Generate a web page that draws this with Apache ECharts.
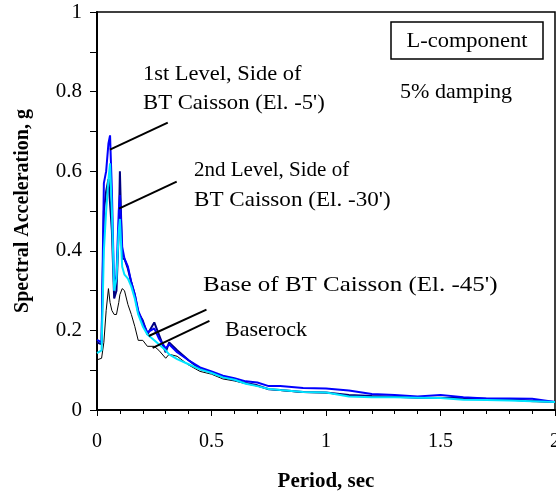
<!DOCTYPE html>
<html>
<head>
<meta charset="utf-8">
<script src="https://cdn.jsdelivr.net/npm/echarts@6/dist/echarts.min.js"></script>
<style>
  html, body { margin: 0; padding: 0; background: #fff; }
  #chart { width: 556px; height: 497px; }
</style>
</head>
<body>
<div id="chart"></div>
<script>
// Response spectra, 5% damping, L-component
const period = [0, 0.02, 0.03, 0.04, 0.05, 0.057, 0.065, 0.075, 0.085, 0.095, 0.1, 0.11, 0.12, 0.135, 0.15, 0.165, 0.18, 0.2, 0.22, 0.25, 0.27, 0.3, 0.315, 0.35, 0.4, 0.45,
  0.5, 0.55, 0.6, 0.65, 0.7, 0.75, 0.8, 0.9, 1.0, 1.1, 1.2, 1.3, 1.4, 1.5, 1.6, 1.7, 1.8, 1.9, 2.0];

const baserock = [0.126, 0.13, 0.17, 0.25, 0.305, 0.27, 0.25, 0.24, 0.24, 0.27, 0.29, 0.305, 0.30, 0.265, 0.24, 0.21, 0.175, 0.175, 0.16, 0.16, 0.15, 0.13, 0.14, 0.135, 0.113, 0.097,
  0.09, 0.078, 0.073, 0.066, 0.06, 0.052, 0.049, 0.044, 0.043, 0.036, 0.033, 0.032, 0.031, 0.03, 0.028, 0.026, 0.025, 0.021, 0.02];

const level2 = [0.17, 0.165, 0.50, 0.55, 0.58, 0.58, 0.45, 0.28, 0.30, 0.45, 0.60, 0.38, 0.38, 0.355, 0.32, 0.29, 0.245, 0.225, 0.19, 0.22, 0.19, 0.145, 0.17, 0.15, 0.125, 0.103,
  0.095, 0.083, 0.075, 0.068, 0.062, 0.052, 0.05, 0.045, 0.044, 0.038, 0.035, 0.033, 0.031, 0.031, 0.03, 0.028, 0.027, 0.023, 0.02];

const level1 = [0.176, 0.17, 0.57, 0.60, 0.67, 0.69, 0.55, 0.30, 0.34, 0.50, 0.54, 0.41, 0.38, 0.36, 0.32, 0.29, 0.25, 0.22, 0.195, 0.205, 0.18, 0.155, 0.165, 0.145, 0.125, 0.107,
  0.097, 0.086, 0.08, 0.072, 0.069, 0.06, 0.06, 0.055, 0.054, 0.049, 0.04, 0.038, 0.034, 0.038, 0.032, 0.029, 0.029, 0.028, 0.02];

const caissonBase = [0.143, 0.15, 0.40, 0.50, 0.58, 0.62, 0.50, 0.30, 0.33, 0.45, 0.48, 0.36, 0.34, 0.33, 0.31, 0.28, 0.24, 0.21, 0.19, 0.175, 0.165, 0.15, 0.14, 0.128, 0.115, 0.102,
  0.093, 0.082, 0.076, 0.066, 0.06, 0.053, 0.05, 0.045, 0.044, 0.034, 0.032, 0.032, 0.031, 0.03, 0.026, 0.025, 0.024, 0.022, 0.02];

// Callout leader lines, in data units (period, acceleration)
const leaders = [
  [[0.309, 0.722], [0.0565, 0.654]],
  [[0.348, 0.574], [0.0957, 0.506]],
  [[0.478, 0.252], [0.226, 0.186]],
  [[0.491, 0.224], [0.243, 0.156]]
];

const SERIF = '"Liberation Serif", "Times New Roman", serif';
const pairs = ys => period.map((t, i) => [t, ys[i]]);

const chart = echarts.init(document.getElementById('chart'), null, { renderer: 'canvas' });

const lineSeries = (name, ys, color, width) => ({
  name, type: 'line', data: pairs(ys), showSymbol: false, symbol: 'none',
  lineStyle: { color, width }, itemStyle: { color }, animation: false, silent: true
});

// Free-standing note text; sx stretches the run horizontally
const note = (text, x, y, sx, align) => ({
  type: 'text', x, y, scaleX: sx,
  style: { text, font: '21px ' + SERIF, fill: '#000', textAlign: align || 'left', textVerticalAlign: 'middle' }
});

chart.setOption({
  backgroundColor: '#fff',
  animation: false,
  grid: {
    left: 97, top: 12, width: 458, height: 398, outerBoundsMode: 'none', containLabel: false,
    show: true, borderColor: '#000', borderWidth: 1.5, backgroundColor: 'transparent'
  },
  xAxis: {
    type: 'value', min: 0, max: 2, interval: 0.5,
    name: 'Period, sec', nameLocation: 'middle', nameGap: 61,
    nameTextStyle: { fontFamily: SERIF, fontWeight: 'bold', fontSize: 21, color: '#000' },
    axisLine: { show: true, onZero: false, lineStyle: { color: '#000', width: 2 } },
    axisTick: { show: true, length: 6, lineStyle: { color: '#000', width: 1 } },
    minorTick: { show: true, splitNumber: 5, length: 4, lineStyle: { color: '#000', width: 1 } },
    axisLabel: { fontFamily: SERIF, fontSize: 20, color: '#000', margin: 22, showMaxLabel: true },
    splitLine: { show: false }
  },
  yAxis: {
    type: 'value', min: 0, max: 1, interval: 0.2,
    name: 'Spectral Acceleration, g', nameLocation: 'middle', nameGap: 64,
    nameTextStyle: { fontFamily: SERIF, fontWeight: 'bold', fontSize: 20, color: '#000' },
    axisLine: { show: true, onZero: false, lineStyle: { color: '#000', width: 2 } },
    axisTick: { show: true, length: 7, lineStyle: { color: '#000', width: 1 } },
    minorTick: { show: true, splitNumber: 2, length: 7, lineStyle: { color: '#000', width: 1 } },
    axisLabel: { fontFamily: SERIF, fontSize: 21, color: '#000', margin: 15 },
    splitLine: { show: false }
  },
  series: [
    lineSeries('Baserock', baserock, '#000000', 1),
    lineSeries('2nd Level, Side of BT Caisson (El. -30\')', level2, '#000080', 2),
    lineSeries('1st Level, Side of BT Caisson (El. -5\')', level1, '#0000FF', 2),
    Object.assign(lineSeries('Base of BT Caisson (El. -45\')', caissonBase, '#00E5FF', 2), {
      markLine: {
        silent: true, animation: false, symbol: ['none', 'none'],
        label: { show: false },
        lineStyle: { color: '#000', width: 2, type: 'solid' },
        emphasis: { disabled: true },
        data: leaders.map(([a, b]) => [{ coord: a }, { coord: b }])
      }
    })
  ],
  graphic: [
    { type: 'rect', shape: { x: 391, y: 22, width: 152, height: 37 }, style: { fill: '#fff', stroke: '#000', lineWidth: 1.5 } },
    note('L-component', 467, 41, 1.07, 'center'),
    note('5% damping', 400, 92.5, 1.05),
    note('1st Level, Side of', 143, 74.5, 1.07),
    note('BT Caisson (El. -5\')', 143, 103, 1.08),
    note('2nd Level, Side of', 194, 170.5, 1.0),
    note('BT Caisson (El. -30\')', 194, 200, 1.1),
    note('Base of BT Caisson (El. -45\')', 203, 285, 1.19),
    note('Baserock', 225, 330, 1.05)
  ]
});
</script>
</body>
</html>
